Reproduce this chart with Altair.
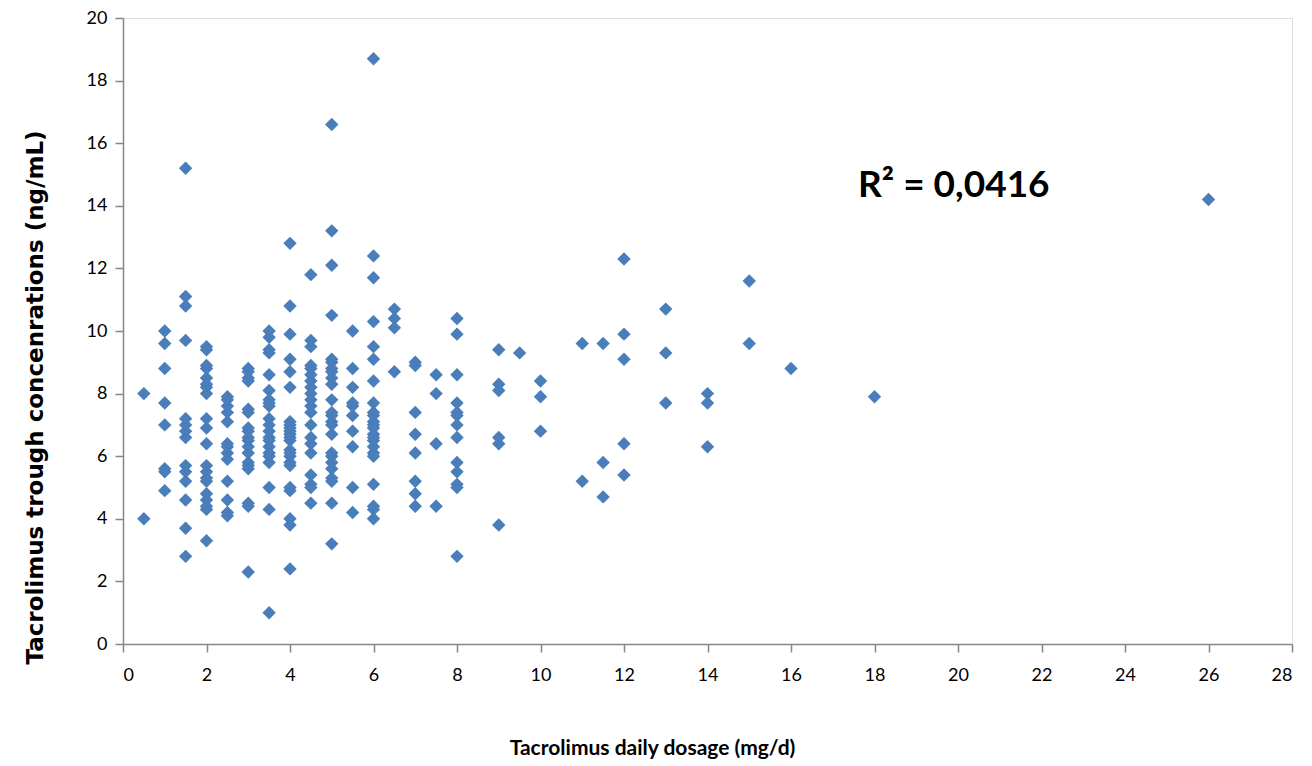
import altair as alt
import pandas as pd

# Dose columns and the trough concentrations
doses = [0.5, 1, 1.5, 2, 2.5, 3, 3.5, 4, 4.5, 5, 5.5, 6, 6.5, 7, 7.5, 8,
         9, 9.5, 10, 11, 11.5, 12, 13, 14, 15, 16, 18, 26]
conc = [
    [8.0, 4.0],
    [10.0, 9.6, 8.8, 7.7, 7.0, 5.6, 5.5, 4.9],
    [15.2, 11.1, 10.8, 9.7, 7.2, 7.0, 6.8, 6.6, 5.7, 5.5, 5.2, 4.6, 3.7, 2.8],
    [9.5, 9.4, 8.9, 8.8, 8.5, 8.3, 8.2, 8.0, 7.2, 6.9, 6.4, 5.7, 5.5, 5.3, 5.2, 4.8, 4.6, 4.4, 4.3, 3.3],
    [7.9, 7.8, 7.6, 7.4, 7.1, 6.4, 6.3, 6.1, 5.9, 5.2, 4.6, 4.2, 4.1],
    [8.8, 8.7, 8.5, 8.4, 7.5, 7.4, 6.9, 6.8, 6.6, 6.5, 6.3, 6.1, 5.8, 5.7, 5.6, 4.5, 4.4, 2.3],
    [10.0, 9.8, 9.4, 9.3, 8.6, 8.1, 7.8, 7.7, 7.6, 7.2, 7.0, 6.8, 6.6, 6.5, 6.3, 6.1, 6.0, 5.8, 5.0, 4.3, 1.0],
    [12.8, 10.8, 9.9, 9.1, 8.7, 8.2, 7.1, 7.0, 6.9, 6.8, 6.7, 6.6, 6.5, 6.2, 6.1, 6.0, 5.8, 5.7, 5.0, 4.9, 4.0, 3.8, 2.4],
    [11.8, 9.7, 9.5, 8.9, 8.8, 8.6, 8.4, 8.2, 8.0, 7.8, 7.6, 7.4, 7.0, 6.6, 6.4, 6.1, 5.4, 5.1, 5.0, 4.5],
    [16.6, 13.2, 12.1, 10.5, 9.1, 9.0, 8.8, 8.7, 8.5, 8.3, 7.8, 7.4, 7.3, 7.1, 7.0, 6.7, 6.1, 6.0, 5.8, 5.6, 5.3, 5.2, 4.5, 3.2],
    [10.0, 8.8, 8.2, 7.7, 7.6, 7.3, 6.8, 6.3, 5.0, 4.2],
    [18.7, 12.4, 11.7, 10.3, 9.5, 9.1, 8.4, 7.7, 7.4, 7.3, 7.1, 7.0, 6.9, 6.7, 6.6, 6.5, 6.3, 6.1, 6.0, 5.1, 4.4, 4.3, 4.0],
    [10.7, 10.4, 10.1, 8.7],
    [9.0, 8.9, 7.4, 6.7, 6.1, 5.2, 4.8, 4.4],
    [8.6, 8.0, 6.4, 4.4],
    [10.4, 9.9, 8.6, 7.7, 7.4, 7.3, 7.0, 6.6, 5.8, 5.5, 5.1, 5.0, 2.8],
    [9.4, 8.3, 8.1, 6.6, 6.4, 3.8],
    [9.3],
    [8.4, 7.9, 6.8],
    [9.6, 5.2],
    [9.6, 5.8, 4.7],
    [12.3, 9.9, 9.1, 6.4, 5.4],
    [10.7, 9.3, 7.7],
    [8.0, 7.7, 6.3],
    [11.6, 9.6],
    [8.8],
    [7.9],
    [14.2],
]
x_ticks = list(range(0, 29, 2))
y_ticks = list(range(0, 21, 2))
r2_text = "R\u00b2 = 0,0416"

rows = [{"dose": d, "conc": c} for d, cs in zip(doses, conc) for c in cs]
df = pd.DataFrame(rows)

axis_common = dict(
    domainColor="#868686", tickColor="#868686", domainWidth=1.5, tickWidth=1.5,
    grid=False, labelFont="Lato", labelFontSize=18, labelColor="#000000",
    titleColor="#000000", tickSize=8,
)

points = alt.Chart(df).mark_point(
    shape="diamond", filled=True, size=180, color="#4A7EBB", opacity=1
).encode(
    x=alt.X("dose:Q", scale=alt.Scale(domain=[0, 28], nice=False),
            axis=alt.Axis(values=x_ticks, title="Tacrolimus daily dosage (mg/d)",
                          titleFont="Lato", titleFontSize=21, titleFontWeight="bold",
                          titleX=529, titleY=104, titleBaseline="middle",
                          labelPadding=14, **axis_common)),
    y=alt.Y("conc:Q", scale=alt.Scale(domain=[0, 20], nice=False),
            axis=alt.Axis(values=y_ticks, title="Tacrolimus trough concenrations (ng/mL)",
                          titleFont="DejaVu Sans", titleFontSize=23, titleFontWeight="bold",
                          titleX=-88, titleY=379, titleAngle=-90, titleBaseline="middle",
                          labelPadding=8, **axis_common)),
)

label = alt.Chart(pd.DataFrame({"t": [r2_text]})).mark_text(
    align="left", baseline="middle", font="Lato", fontSize=37, fontWeight="bold",
    color="#000000"
).encode(x=alt.value(735), y=alt.value(168), text="t:N")

chart = (points + label).properties(
    width=1169, height=626,
    autosize=alt.AutoSizeParams(type="none"),
    padding={"left": 115, "top": 10, "right": 10, "bottom": 120},
).configure_view(stroke=None).configure(background="white")

chart.save("out.html", embed_options={"renderer": "svg", "actions": False})
